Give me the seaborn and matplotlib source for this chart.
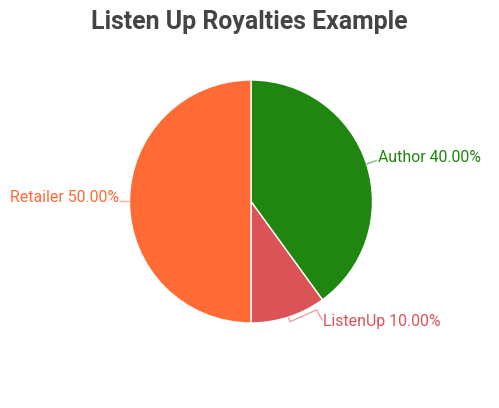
import matplotlib
matplotlib.use("Agg")
import matplotlib.pyplot as plt
import seaborn as sns
import numpy as np

categories = ["Author", "ListenUp", "Retailer"]
shares = [40.0, 10.0, 50.0]
colors = ["#1f860f", "#dc5357", "#ff6a35"]
title = "Listen Up Royalties Example"

sns.set_theme(style="white")
plt.rcParams["font.family"] = ["Roboto", "DejaVu Sans"]

W, H = 499, 408
fig = plt.figure(figsize=(W / 100, H / 100), dpi=100)
ax = fig.add_axes([0, 0, 1, 1])
scale = 121.5
cx, cy = 251, 201.5

wedges, _ = ax.pie(shares, colors=colors, startangle=90, counterclock=False,
                   radius=1.0, center=(0, 0),
                   wedgeprops=dict(edgecolor="white", linewidth=1))
ax.set_xlim(-cx / scale, (W - cx) / scale)
ax.set_ylim(-(H - cy) / scale, cy / scale)
ax.set_aspect("auto")
ax.axis("off")

def px(x, y):
    return ((x - cx) / scale, (cy - y) / scale)

label_pos = [px(378, 157), px(323, 321.5), px(119, 197)]
has = ["left", "left", "right"]
relposs = [(0, 0.3), (0, 0.5), (1, 0.2)]
conns = ["arc3,rad=0", "angle,angleA=119,angleB=24,rad=0", "arc3,rad=0"]
out_r = [1.0, 1.04, 1.0]

total = sum(shares)
start = 90.0
for i, (cat, val) in enumerate(zip(categories, shares)):
    span = 360.0 * val / total
    mid = np.deg2rad(start - span / 2)
    start -= span
    c, s = np.cos(mid), np.sin(mid)
    r = out_r[i]
    if r > 1.0:
        ax.plot([c, r * c], [s, r * s], color=colors[i], alpha=0.55, lw=1,
                solid_capstyle="butt")
    ax.annotate(f"{cat} {val:.2f}%", xy=(r * c, r * s), xytext=label_pos[i],
                ha=has[i], va="center", fontsize=11.4, color=colors[i],
                arrowprops=dict(arrowstyle="-", color=colors[i], alpha=0.55,
                                lw=1, shrinkA=1, shrinkB=0, relpos=relposs[i],
                                patchA=None,
                                connectionstyle=conns[i]))

fig.text(249 / W, 1 - 22 / H, title, ha="center", va="center",
         fontsize=17.9, fontweight="bold", color="#444444")

fig.savefig("out.png", dpi=100, facecolor="white")
